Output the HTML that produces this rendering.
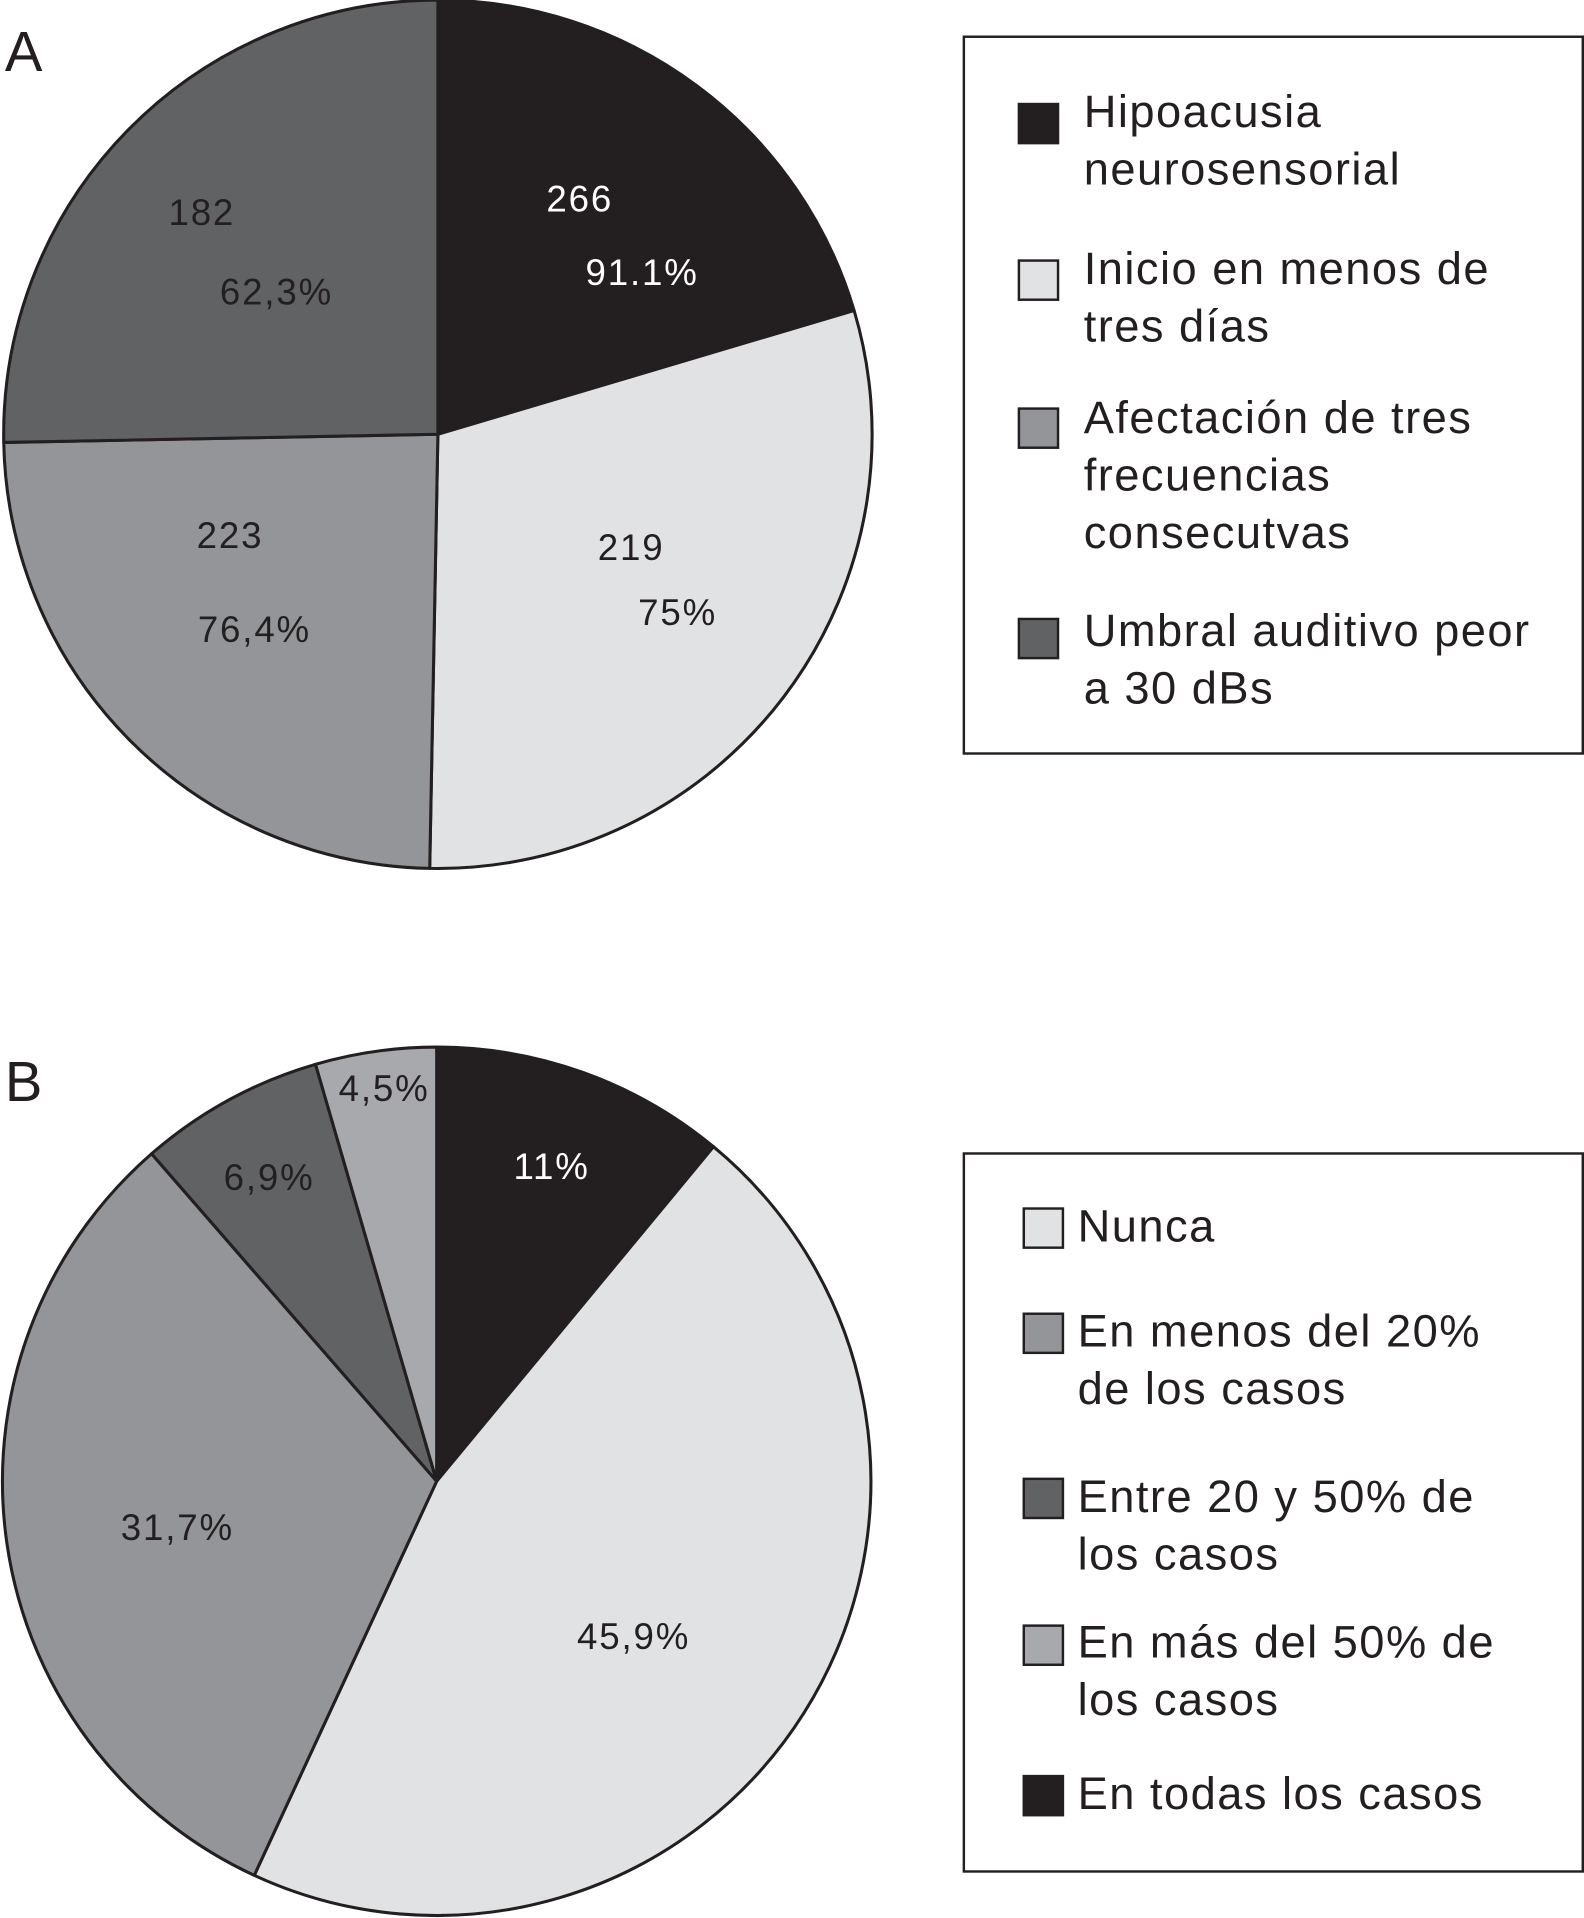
<!DOCTYPE html>
<html><head><meta charset="utf-8"><style>
html,body{margin:0;padding:0;background:#fff;}
svg{display:block;font-family:"Liberation Sans",Arial,sans-serif;}
</style></head><body>
<svg id="chart" width="1584" height="1918" viewBox="0 0 1295 1568">
<text x="4" y="58" font-size="46" fill="#231f20">A</text>
<text x="4" y="900" font-size="46" fill="#231f20">B</text>
<g id="pieA"></g>
<g id="pieB"></g>
<g font-size="30" letter-spacing="1.5" text-anchor="middle">
<text x="474" y="173" fill="#fff">266</text>
<text x="525" y="233" fill="#fff">91.1%</text>
<text x="516" y="458" fill="#231f20">219</text>
<text x="554" y="511" fill="#231f20">75%</text>
<text x="188" y="448" fill="#231f20">223</text>
<text x="208" y="525" fill="#231f20">76,4%</text>
<text x="165" y="184" fill="#231f20">182</text>
<text x="226" y="249" fill="#231f20">62,3%</text>
</g>
<g font-size="30" letter-spacing="1.5" text-anchor="middle">
<text x="451" y="964" fill="#fff">11%</text>
<text x="518" y="1348" fill="#231f20">45,9%</text>
<text x="145" y="1259" fill="#231f20">31,7%</text>
<text x="220" y="973" fill="#231f20">6,9%</text>
<text x="314" y="900" fill="#231f20">4,5%</text>
</g>
<g>
<rect x="788" y="30" width="506" height="586" fill="#fff" stroke="#231f20" stroke-width="2"/>
<g font-size="37" letter-spacing="1.2" fill="#231f20">
<rect x="833" y="85" width="32" height="32" fill="#231f20" stroke="#231f20" stroke-width="2"/>
<text x="886" y="104">Hipoacusia<tspan x="886" dy="47">neurosensorial</tspan></text>
<rect x="833" y="213" width="32" height="32" fill="#e1e2e4" stroke="#231f20" stroke-width="2"/>
<text x="886" y="232">Inicio en menos de<tspan x="886" dy="47">tres días</tspan></text>
<rect x="833" y="334" width="32" height="32" fill="#939598" stroke="#231f20" stroke-width="2"/>
<text x="886" y="354">Afectación de tres<tspan x="886" dy="47">frecuencias</tspan><tspan x="886" dy="47">consecutvas</tspan></text>
<rect x="833" y="506" width="32" height="32" fill="#616264" stroke="#231f20" stroke-width="2"/>
<text x="886" y="528">Umbral auditivo peor<tspan x="886" dy="47">a 30 dBs</tspan></text>
</g></g>
<g>
<rect x="788" y="943" width="506" height="587" fill="#fff" stroke="#231f20" stroke-width="2"/>
<g font-size="37" letter-spacing="1.2" fill="#231f20">
<rect x="837" y="988" width="32" height="32" fill="#e1e2e4" stroke="#231f20" stroke-width="2"/>
<text x="881" y="1015">Nunca</text>
<rect x="837" y="1074" width="32" height="32" fill="#939598" stroke="#231f20" stroke-width="2"/>
<text x="881" y="1101">En menos del 20%<tspan x="881" dy="47">de los casos</tspan></text>
<rect x="837" y="1209" width="32" height="32" fill="#616264" stroke="#231f20" stroke-width="2"/>
<text x="881" y="1236">Entre 20 y 50% de<tspan x="881" dy="47">los casos</tspan></text>
<rect x="837" y="1329" width="32" height="32" fill="#a7a9ac" stroke="#231f20" stroke-width="2"/>
<text x="881" y="1355">En más del 50% de<tspan x="881" dy="47">los casos</tspan></text>
<rect x="837" y="1452" width="32" height="32" fill="#231f20" stroke="#231f20" stroke-width="2"/>
<text x="881" y="1479">En todas los casos</text>
</g></g>
</svg>
<script>
// Pie A: slice shares as drawn (percent of circle), clockwise from 12 o'clock
const pieACategories = ["Hipoacusia neurosensorial", "Inicio en menos de tres días", "Afectación de tres frecuencias", "Umbral auditivo peor a 30 dBs"];
const pieAValues = [20.4, 29.9, 24.4, 25.3];
const pieAColors = ["#231f20", "#e1e2e4", "#939598", "#616264"];
// Pie B: percentages clockwise from 12 o'clock
const pieBCategories = ["En todas los casos", "Nunca", "En menos del 20%", "Entre 20 y 50%", "En más del 50%"];
const pieBValues = [11, 45.9, 31.7, 6.9, 4.5];
const pieBColors = ["#231f20", "#e1e2e4", "#939598", "#616264", "#a7a9ac"];

const NS = "http://www.w3.org/2000/svg";
function angleScale(v, total) { return v / total * 2 * Math.PI; }
function pt(cx, cy, r, a) { return [cx + r * Math.sin(a), cy - r * Math.cos(a)]; }
function drawPie(gid, cats, vals, cols, cx, cy, r) {
  const g = document.getElementById(gid);
  const total = vals.reduce((s, v) => s + v, 0);
  let a0 = 0;
  vals.forEach((v, i) => {
    const a1 = a0 + angleScale(v, total);
    const p0 = pt(cx, cy, r, a0), p1 = pt(cx, cy, r, a1);
    const large = (a1 - a0) > Math.PI ? 1 : 0;
    const path = document.createElementNS(NS, "path");
    path.setAttribute("d", `M${cx},${cy} L${p0[0]},${p0[1]} A${r},${r} 0 ${large} 1 ${p1[0]},${p1[1]} Z`);
    path.setAttribute("fill", cols[i]);
    path.setAttribute("stroke", "#231f20");
    path.setAttribute("stroke-width", "2.5");
    path.setAttribute("stroke-linejoin", "round");
    
    
    g.appendChild(path);
    a0 = a1;
  });
}
drawPie("pieA", pieACategories, pieAValues, pieAColors, 358, 355, 355);
drawPie("pieB", pieBCategories, pieBValues, pieBColors, 357, 1211, 355);
</script>
</body></html>
